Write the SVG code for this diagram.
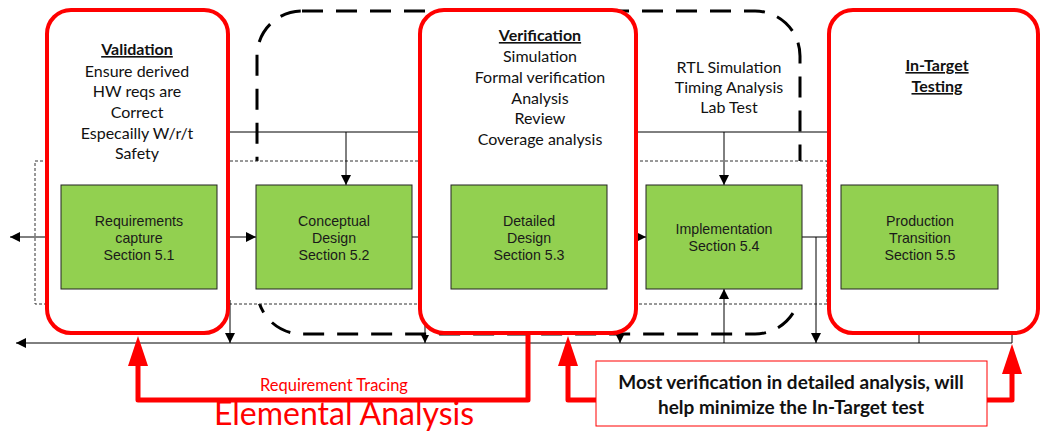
<svg xmlns="http://www.w3.org/2000/svg" width="1042" height="434" viewBox="0 0 1042 434">
<defs>
<marker id="ah" viewBox="0 0 10 10" refX="10" refY="5" markerWidth="10" markerHeight="10" markerUnits="userSpaceOnUse" orient="auto"><path d="M0,0 L10,5 L0,10 z" fill="#000"/></marker>
<marker id="ahs" viewBox="0 0 10 10" refX="10" refY="5" markerWidth="8" markerHeight="8" markerUnits="userSpaceOnUse" orient="auto"><path d="M0,0 L10,5 L0,10 z" fill="#000"/></marker>
<style>
.ln{stroke:#000;stroke-width:1;fill:none}
.red{fill:#fff;stroke:#ff0000;stroke-width:4}
.green{fill:#92d050;stroke:#222;stroke-width:1}
.gt{font-family:"Liberation Sans",Arial,sans-serif;font-size:14.2px;fill:#1a1a1a;text-anchor:middle}
.ct{font-family:Lato,"Open Sans",sans-serif;font-size:16px;fill:#111;text-anchor:middle}
.hd{font-weight:bold;text-decoration:underline}
.rp{fill:none;stroke:#ff0000;stroke-width:5;stroke-linejoin:round}
</style>
</defs>
<g id="dashed-group"><rect x="257" y="11" width="543" height="323" rx="45" fill="none" stroke="#000" stroke-width="3" stroke-dasharray="21 13"/></g>
<g id="dotted-frame"><rect x="35" y="161" width="792" height="143" fill="#fff" stroke="#333" stroke-width="1" stroke-dasharray="3 2"/></g>
<g id="connectors">
<path class="ln" d="M230,132 H827"/>
<path class="ln" d="M346,132 V185" marker-end="url(#ah)"/>
<path class="ln" d="M724,132 V185" marker-end="url(#ah)"/>
<path class="ln" d="M61,237 H10" marker-end="url(#ah)"/>
<path class="ln" d="M217,237 H256" marker-end="url(#ah)"/>
<path class="ln" d="M412,237 H451"/>
<path class="ln" d="M607,237 H646" marker-end="url(#ahs)"/>
<path class="ln" d="M802,237 H827"/>
<path class="ln" d="M816,237 V343" marker-end="url(#ah)"/>
<path class="ln" d="M1012,343 H16" marker-end="url(#ah)"/>
<path class="ln" d="M230,300 V343" marker-end="url(#ah)"/>
<path class="ln" d="M425,300 V343" marker-end="url(#ahs)"/>
<path class="ln" d="M620,300 V343" marker-end="url(#ahs)"/>
<path class="ln" d="M724,343 V289" marker-end="url(#ah)"/>
<path class="ln" d="M919,330 V343"/>
<path class="ln" d="M1012,330 V343"/>
</g>
<g id="validation"><rect class="red" x="47" y="10" width="181" height="323" rx="24"/>
<text class="ct"><tspan class="hd" x="137" y="55">Validation</tspan><tspan x="137" y="77">Ensure derived</tspan><tspan x="137" y="97">HW reqs are</tspan><tspan x="137" y="118">Correct</tspan><tspan x="137" y="139">Especailly W/r/t</tspan><tspan x="137" y="159">Safety</tspan></text></g>
<g id="verification"><rect class="red" x="420" y="10" width="216" height="323" rx="24"/>
<text class="ct"><tspan class="hd" x="540" y="41">Verification</tspan><tspan x="540" y="62">Simulation</tspan><tspan x="540" y="83">Formal verification</tspan><tspan x="540" y="104">Analysis</tspan><tspan x="540" y="124">Review</tspan><tspan x="540" y="145">Coverage analysis</tspan></text></g>
<g id="rtl-notes"><text class="ct"><tspan x="729" y="73">RTL Simulation</tspan><tspan x="729" y="93">Timing Analysis</tspan><tspan x="729" y="113">Lab Test</tspan></text></g>
<g id="in-target"><rect class="red" x="829" y="10" width="209" height="323" rx="24"/>
<text class="ct hd" font-weight="bold"><tspan x="937" y="71">In-Target</tspan><tspan x="937" y="92">Testing</tspan></text></g>
<g id="req-capture"><rect class="green" x="61" y="185" width="156" height="104"/><text class="gt"><tspan x="139" y="226">Requirements</tspan><tspan x="139" y="243">capture</tspan><tspan x="139" y="260">Section 5.1</tspan></text></g>
<g id="conceptual"><rect class="green" x="256" y="185" width="156" height="104"/><text class="gt"><tspan x="334" y="226">Conceptual</tspan><tspan x="334" y="243">Design</tspan><tspan x="334" y="260">Section 5.2</tspan></text></g>
<g id="detailed"><rect class="green" x="451" y="185" width="156" height="104"/><text class="gt"><tspan x="529" y="226">Detailed</tspan><tspan x="529" y="243">Design</tspan><tspan x="529" y="260">Section 5.3</tspan></text></g>
<g id="implementation"><rect class="green" x="646" y="185" width="156" height="104"/><text class="gt"><tspan x="724" y="234">Implementation</tspan><tspan x="724" y="251">Section 5.4</tspan></text></g>
<g id="production"><rect class="green" x="841" y="185" width="157" height="104"/><text class="gt"><tspan x="920" y="226">Production</tspan><tspan x="920" y="243">Transition</tspan><tspan x="920" y="260">Section 5.5</tspan></text></g>
<g id="red-arrows">
<path class="rp" d="M528,335 V400 H138 V360"/>
<path d="M128,366 L138,336 L148,366 z" fill="#ff0000"/>
<path class="rp" d="M596,400 H568 V360"/>
<path d="M558,366 L568,336 L578,366 z" fill="#ff0000"/>
<path class="rp" d="M987,400 H1012 V368"/>
<path d="M1002,374 L1012,344 L1022,374 z" fill="#ff0000"/>
</g>
<g id="tracing-labels">
<text x="334" y="391" font-family="Lato,'Open Sans',sans-serif" font-size="16.5" fill="#ff0000" text-anchor="middle">Requirement Tracing</text>
<text x="344" y="425" font-family="Lato,'Open Sans',sans-serif" font-size="32" fill="#ff0000" text-anchor="middle">Elemental Analysis</text>
</g>
<g id="callout"><rect x="596" y="361" width="391" height="65" fill="#fff" stroke="#ff0000" stroke-width="1"/>
<text font-family="Lato,'Open Sans',sans-serif" font-size="19" font-weight="bold" fill="#111" text-anchor="middle"><tspan x="791" y="389">Most verification in detailed analysis, will</tspan><tspan x="791" y="414">help minimize the In-Target test</tspan></text></g>
</svg>
